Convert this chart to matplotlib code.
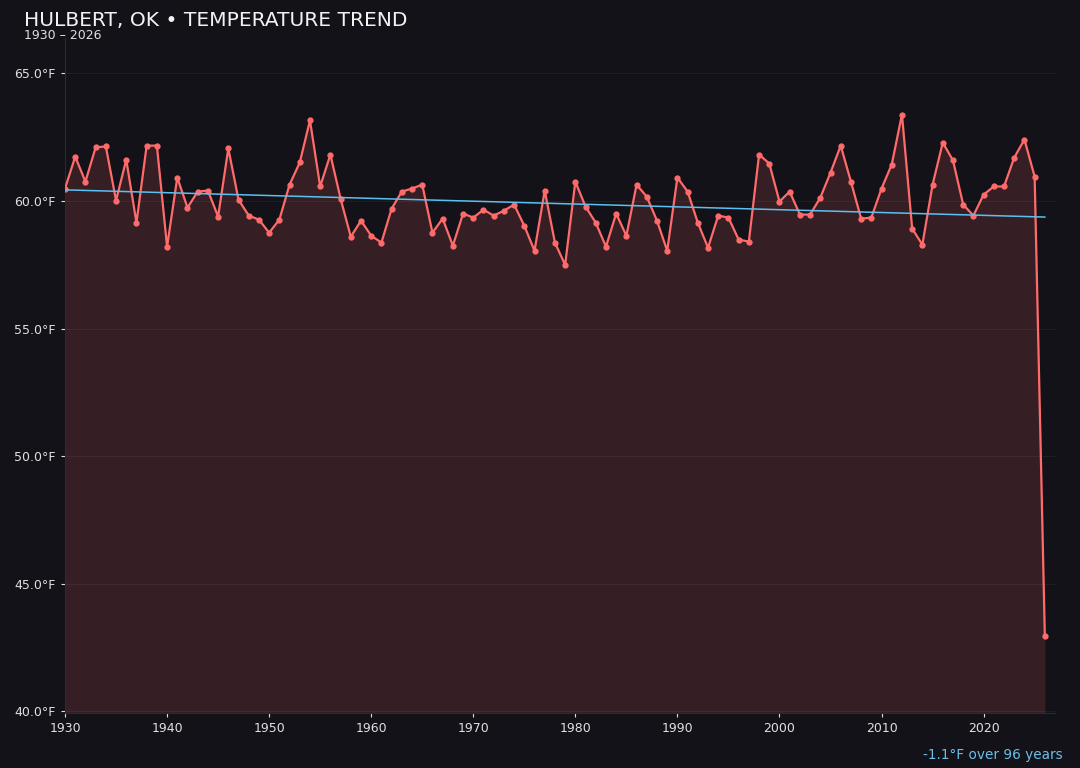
import numpy as np
import matplotlib
matplotlib.use("Agg")
import matplotlib.pyplot as plt
from matplotlib.ticker import FuncFormatter

years = list(range(1930, 2027))
temps = [
    60.49, 61.74, 60.76, 62.10, 62.14, 60.02, 61.62, 59.15, 62.17, 62.17,  # 1930s
    58.21, 60.92, 59.74, 60.37, 60.41, 59.39, 62.06, 60.05, 59.43, 59.27,  # 1940s
    58.76, 59.27, 60.64, 61.51, 63.16, 60.57, 61.82, 60.09, 58.60, 59.23,  # 1950s
    58.64, 58.37, 59.70, 60.37, 60.49, 60.64, 58.76, 59.31, 58.25, 59.51,  # 1960s
    59.35, 59.66, 59.43, 59.62, 59.86, 59.03, 58.05, 60.41, 58.37, 57.50,  # 1970s
    60.76, 59.78, 59.15, 58.21, 59.51, 58.64, 60.64, 60.17, 59.23, 58.05,  # 1980s
    60.92, 60.37, 59.15, 58.17, 59.43, 59.35, 58.49, 58.41, 61.82, 61.47,  # 1990s
    59.98, 60.37, 59.47, 59.47, 60.13, 61.11, 62.17, 60.76, 59.31, 59.35,  # 2000s
    60.49, 61.43, 63.39, 58.92, 58.29, 60.64, 62.29, 61.59, 59.86, 59.43,  # 2010s
    60.25, 60.57, 60.57, 61.70, 62.41, 60.96, 42.94,                       # 2020s
]
title = "HULBERT, OK • TEMPERATURE TREND"
subtitle = "1930 – 2026"
trend_label = "-1.1°F over 96 years"

bg = "#131218"
line_col = "#ff6b6b"
trend_col = "#5bc0f0"

x = np.array(years)
y = np.array(temps)
slope, icpt = np.polyfit(x, y, 1)

fig = plt.figure(figsize=(10.8, 7.68), dpi=100, facecolor=bg)
ax = fig.add_axes([0.0602, 0.0716, 0.9167, 0.879])
ax.set_facecolor(bg)

ymin = y.min() - 3
ymax = y.max() + 3
ax.fill_between(x, y, ymin, color=line_col, alpha=0.15, linewidth=0)
ax.plot(x, y, color=line_col, lw=1.6, marker="o", ms=3.5, zorder=3)
ax.plot(x, slope * x + icpt, color=trend_col, lw=1.1, zorder=4)

ax.set_xlim(1930, 2027)
ax.set_ylim(ymin, ymax)
ax.set_yticks([40, 45, 50, 55, 60, 65])
ax.yaxis.set_major_formatter(FuncFormatter(lambda v, p: f"{v:.1f}°F"))
ax.set_xticks(range(1930, 2021, 10))
ax.grid(axis="y", color="#ffffff", alpha=0.05, lw=0.8)
ax.tick_params(colors="#e0e0e0", labelsize=9, length=3)
for s in ["top", "right"]:
    ax.spines[s].set_visible(False)
for s in ["left", "bottom"]:
    ax.spines[s].set_color("#2a2a30")

fig.text(0.022, 0.973, title, color="#f2f2f2", fontsize=14.6, va="center", ha="left")
fig.text(0.022, 0.954, subtitle, color="#e0e0e0", fontsize=9, va="center", ha="left")
fig.text(0.984, 0.017, trend_label, color="#6cbde8", fontsize=9.8, ha="right", va="center")

fig.savefig("out.png", dpi=100, facecolor=bg)
